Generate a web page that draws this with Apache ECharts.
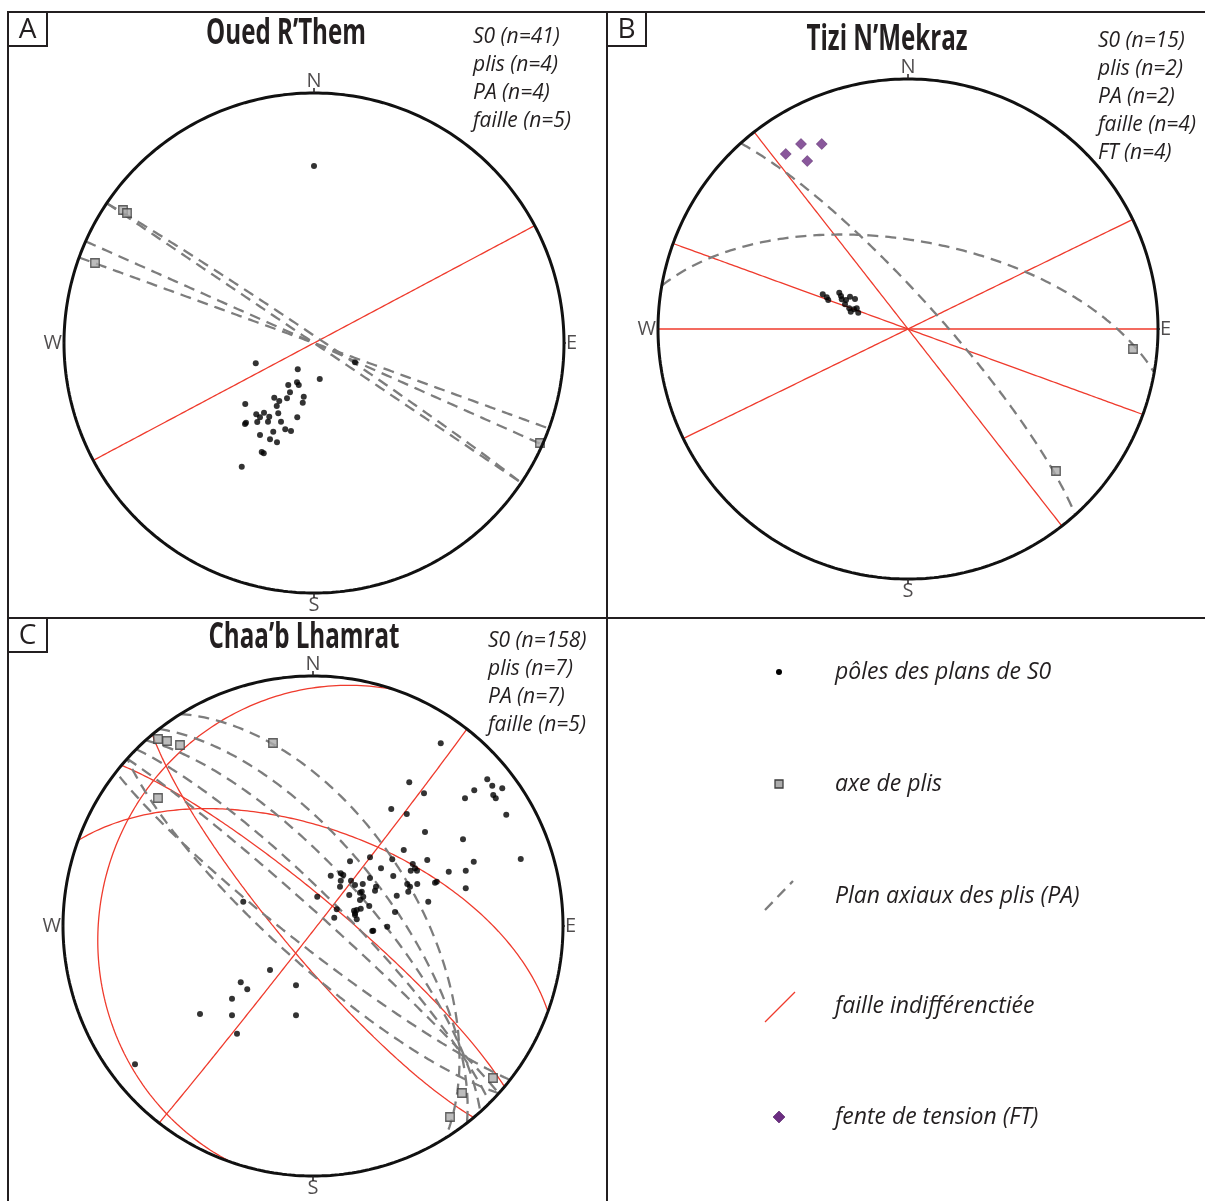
<!DOCTYPE html>
<html><head><meta charset="utf-8">
<script src="https://cdn.jsdelivr.net/npm/echarts@6/dist/echarts.min.js"></script>
<style>html,body{margin:0;padding:0;background:#fff}#c{width:1205px;height:1201px}</style>
</head><body><div id="c"></div>
<script>
// ===== DATA (net coordinates: east, north, in % of primitive radius; planes: strike, dip RHR) =====
const titles = ['Oued R\u2019Them', 'Tizi N\u2019Mekraz', 'Chaa\u2019b Lhamrat'];
const panelLetters = ['A', 'B', 'C'];
const statsA = ['S0 (n=41)', 'plis (n=4)', 'PA (n=4)', 'faille (n=5)'];
const statsB = ['S0 (n=15)', 'plis (n=2)', 'PA (n=2)', 'faille (n=4)', 'FT (n=4)'];
const statsC = ['S0 (n=158)', 'plis (n=7)', 'PA (n=7)', 'faille (n=5)'];
const legendLabels = ['p\u00f4les des plans de S0', 'axe de plis', 'Plan axiaux des plis (PA)', 'faille indiff\u00e9rencti\u00e9e', 'fente de tension (FT)'];
const cardinals = ['N', 'E', 'S', 'W'];

// Panel A
const polesA = [[-23.3,-8.1],[-6.5,-10.5],[2.3,-14.4],[-10.3,-16.8],[-6.8,-15.7],[-6.1,-16.8],[-9.6,-19.7],[-4.1,-21.5],[-15.9,-21.9],[-13.9,-23.2],[-10.8,-22.1],[-14.9,-25.2],[-4.5,-23.9],[-27.5,-24.4],[-14.3,-28.1],[-6.7,-29.7],[-23.1,-28.5],[-21.6,-29.7],[-20,-27.9],[-17.9,-29.5],[-22.7,-31.6],[-18.4,-31.5],[-13.2,-31.5],[-27.2,-31.9],[-27.6,-32.4],[-16.3,-35.5],[-11.5,-34.5],[-9.2,-35.2],[-21.6,-36.8],[-17.6,-38.5],[-14.8,-39.7],[-20.9,-43.6],[-20.1,-44.1],[-28.9,-49.5],[16.4,-7.7],[0,70.8]];
const foldAxesA = [[-76.4,53.2],[-74.8,52],[-87.6,32],[90.4,-40]];
const axialPlanesA = [[304,90],[304,88],[294,90],[290,90]];
const faultsA = [[62,90]];

// Panel B
const polesB = [[-34.1,13.9],[-32.5,12.7],[-31.9,11.6],[-27.5,14.5],[-26.8,13.2],[-23.2,12.9],[-21.2,12],[-25.2,9.9],[-23.5,8.3],[-22.9,6.9],[-20.5,8.3],[-19.9,6.5],[-26.5,11.9],[-21.6,7.9],[-24.8,11.6]];
const foldAxesB = [[90,-8],[59.2,-56.8]];
const axialPlanesB = [[280,61],[318,80]];
const faultsB = [[90,90],[290,90],[64,90],[142,90]];
const tensionB = [[-48.9,70],[-42.8,74],[-34.5,74],[-40.3,67.2]];

// Panel C
const polesC = [[51.1,73.1],[38.5,57.5],[44.4,53.1],[31.3,46.8],[37.5,44.8],[69.7,58.7],[71.7,56.1],[75.7,55.1],[64.5,54.3],[60.8,51.1],[72.1,52.4],[73.1,51.1],[77.3,44.5],[44.8,37.6],[60,34.7],[83.1,26.8],[36.3,30.4],[14.8,25.9],[22.8,27.5],[31.7,26.7],[45.7,26.4],[64.3,25.7],[39.9,24.8],[40.8,23.1],[39.1,22.1],[41.6,22.1],[54.3,21.7],[61.1,22.1],[11.1,21.1],[12.1,20.4],[7.1,20.1],[27.2,23.1],[22.8,19.2],[32.1,20],[49.5,17.7],[48.8,17.3],[15.2,18.1],[11.1,18.1],[10.8,15.7],[16.8,16.4],[19.9,16.8],[25.2,15.7],[24.8,14.1],[37.7,16.8],[38.8,15.7],[41.7,16.8],[38.1,13.7],[61.1,15.1],[14.5,12.4],[18.8,13.3],[20.1,11.7],[33.5,12.1],[1.7,11.7],[18.8,10.4],[22.5,8],[46.1,9.7],[9.5,6.7],[16.4,6.1],[19.1,6.9],[32.8,5.6],[8.5,3.3],[16.8,4.4],[17.5,2.7],[29.7,-0.3],[23.7,-2],[19.5,13.7],[17.5,6.4],[16.8,5.1],[24.1,-1.9],[-27.9,9.7],[-17.2,-17.6],[-28.9,-22.5],[-26.3,-25.3],[-6.8,-23.7],[-32.4,-29.1],[-45.2,-35.2],[-32.4,-35.7],[-6.8,-35.7],[-30.4,-43.1],[-71.2,-55.3]];
const foldAxesC = [[-62,74.8],[-58.4,74],[-53.2,72.4],[-16,73.2],[-62,51.2],[72,-60.8],[59.6,-66.8],[54.8,-76.4]];
const axialPlanesC = [[328,56],[322,65],[318,72],[315,80],[312,86],[128,83],[132,78]];
const faultsC = [[38,89],[199,16],[290,58],[310,81],[140,80]];

// ===== PROJECTION (Schmidt equal-area, lower hemisphere) =====
const deg = Math.PI / 180;
function projLine(trend, plunge) {
  const r = 100 * Math.SQRT2 * Math.sin((90 - plunge) / 2 * deg);
  return [r * Math.sin(trend * deg), r * Math.cos(trend * deg)];
}
function greatCircle(strike, dip) {
  const s = strike * deg, d = dip * deg;
  const S = [Math.sin(s), Math.cos(s), 0];
  const D = [Math.cos(d) * Math.sin(s + Math.PI / 2), Math.cos(d) * Math.cos(s + Math.PI / 2), Math.sin(d)];
  const pts = [];
  for (let t = 0; t <= 180; t += 1) {
    const c = Math.cos(t * deg), sn = Math.sin(t * deg);
    const v = [c * S[0] + sn * D[0], c * S[1] + sn * D[1], c * S[2] + sn * D[2]];
    const pl = Math.asin(Math.max(-1, Math.min(1, v[2]))) / deg;
    const tr = Math.atan2(v[0], v[1]) / deg;
    pts.push(projLine(tr, pl));
  }
  return pts;
}
function primitive() {
  const pts = [];
  for (let a = 0; a <= 360; a += 1) pts.push([100 * Math.sin(a * deg), 100 * Math.cos(a * deg)]);
  return pts;
}

// ===== STYLES =====
const INK = '#231f20';
const RED = '#ef3b2d';
const GREY = '#7d7d7d';
const FONT = '"Open Sans", "Noto Sans", sans-serif';

const grids = [
  { left: 64, top: 93, width: 500, height: 500 },
  { left: 658, top: 79, width: 500, height: 500 },
  { left: 63, top: 676, width: 500, height: 500 }
];

const series = [];
function lineS(gi, data, style, z) {
  series.push({ type: 'line', xAxisIndex: gi, yAxisIndex: gi, data: data, showSymbol: false, symbol: 'none',
    lineStyle: style, silent: true, clip: false, z: z, animation: false });
}
function scatterS(gi, data, opts) {
  series.push(Object.assign({ type: 'scatter', xAxisIndex: gi, yAxisIndex: gi, data: data, silent: true, animation: false }, opts));
}

const panels = [
  { poles: polesA, folds: foldAxesA, pa: axialPlanesA, faults: faultsA, ft: [] },
  { poles: polesB, folds: foldAxesB, pa: axialPlanesB, faults: faultsB, ft: tensionB },
  { poles: polesC, folds: foldAxesC, pa: axialPlanesC, faults: faultsC, ft: [] }
];

panels.forEach((p, gi) => {
  p.faults.forEach(f => lineS(gi, greatCircle(f[0], f[1]), { color: RED, width: 1.3 }, 3));
  p.pa.forEach(f => lineS(gi, greatCircle(f[0], f[1]), { color: GREY, width: 2.3, type: [11, 7] }, 4));
  scatterS(gi, p.poles, { symbol: 'circle', symbolSize: 6, itemStyle: { color: '#000' }, z: 5 });
  scatterS(gi, p.folds, { symbol: 'rect', symbolSize: 8.5, itemStyle: { color: '#ababab', borderColor: '#3d3d3d', borderWidth: 1.3 }, z: 6 });
  if (p.ft.length) scatterS(gi, p.ft, { symbol: 'diamond', symbolSize: [11, 11], itemStyle: { color: '#6c2d82', borderColor: '#4e1d60', borderWidth: 0.6 }, z: 6 });
  lineS(gi, primitive(), { color: '#111', width: 3 }, 7);
  [[0, 1], [1, 0], [0, -1], [-1, 0]].forEach(v => lineS(gi, [[v[0] * 100, v[1] * 100], [v[0] * 102, v[1] * 102]], { color: INK, width: 1.5 }, 7));
  const pos = ['top', 'right', 'bottom', 'left'];
  scatterS(gi, [[0, 100], [100, 0], [0, -100], [-100, 0]].map((c, i) => ({ value: c, name: cardinals[i],
    label: { show: true, position: pos[i], distance: 2, formatter: cardinals[i], color: INK, fontFamily: FONT, fontSize: 20 } })),
    { symbolSize: 0, symbol: 'circle', itemStyle: { color: 'transparent' }, z: 8 });
});

// ===== GRAPHIC: frame, titles, stats, legend =====
const graphic = [];
const lineG = (x1, y1, x2, y2, w) => graphic.push({ type: 'line', shape: { x1, y1, x2, y2 }, style: { stroke: INK, lineWidth: w || 2 }, silent: true, z: 10 });
lineG(8, 12, 1205, 12);
lineG(8, 12, 8, 1201);
lineG(607, 12, 607, 1201);
lineG(8, 618, 1205, 618);
const boxes = [[8, 12], [607, 12], [8, 618]];
boxes.forEach((b, i) => {
  graphic.push({ type: 'rect', shape: { x: b[0], y: b[1], width: 39, height: 34 }, style: { fill: '#fff', stroke: INK, lineWidth: 2 }, z: 10 });
  graphic.push({ type: 'text', x: b[0] + 19.5, y: b[1] + 18, style: { text: panelLetters[i], font: '28px ' + FONT, fill: INK, textAlign: 'center', textVerticalAlign: 'middle' }, z: 11 });
});
const titlePos = [[286, 34], [887, 40], [304, 638]];
titles.forEach((t, i) => graphic.push({ type: 'text', x: titlePos[i][0], y: titlePos[i][1], scaleX: 0.69,
  style: { text: t, font: 'bold 35px ' + FONT, fill: INK, textAlign: 'center', textVerticalAlign: 'middle' }, z: 11 }));
const statsPos = [[473, 37, statsA], [1098, 41, statsB], [488, 641, statsC]];
statsPos.forEach(sp => sp[2].forEach((t, k) => graphic.push({ type: 'text', x: sp[0], y: sp[1] + k * 28,
  style: { text: t, font: 'italic 21px ' + FONT, fill: INK, textAlign: 'left', textVerticalAlign: 'middle' }, z: 11 })));

// legend
const ly = [672, 784, 896, 1006, 1117];
graphic.push({ type: 'circle', shape: { cx: 779, cy: ly[0], r: 3 }, style: { fill: '#000' }, z: 11 });
graphic.push({ type: 'rect', shape: { x: 775, y: ly[1] - 4, width: 8, height: 8 }, style: { fill: '#ababab', stroke: '#3d3d3d', lineWidth: 1.3 }, z: 11 });
graphic.push({ type: 'line', shape: { x1: 765, y1: ly[2] + 14, x2: 793, y2: ly[2] - 15 }, style: { stroke: GREY, lineWidth: 2.3, lineDash: [11, 7] }, z: 11 });
graphic.push({ type: 'line', shape: { x1: 765, y1: ly[3] + 16, x2: 795, y2: ly[3] - 14 }, style: { stroke: RED, lineWidth: 1.3 }, z: 11 });
graphic.push({ type: 'polygon', shape: { points: [[779, ly[4] - 6], [785, ly[4]], [779, ly[4] + 6], [773, ly[4]]] }, style: { fill: '#6c2d82', stroke: '#4e1d60', lineWidth: 0.6 }, z: 11 });
legendLabels.forEach((t, i) => graphic.push({ type: 'text', x: 835, y: ly[i],
  style: { text: t, font: 'italic 23px ' + FONT, fill: INK, textAlign: 'left', textVerticalAlign: 'middle' }, z: 11 }));

const chart = echarts.init(document.getElementById('c'), null, { renderer: 'canvas' });
chart.setOption({
  backgroundColor: '#fff',
  animation: false,
  grid: grids,
  xAxis: grids.map((g, i) => ({ gridIndex: i, type: 'value', min: -100, max: 100, show: false })),
  yAxis: grids.map((g, i) => ({ gridIndex: i, type: 'value', min: -100, max: 100, show: false })),
  series: series,
  graphic: graphic
});
</script>
</body></html>
